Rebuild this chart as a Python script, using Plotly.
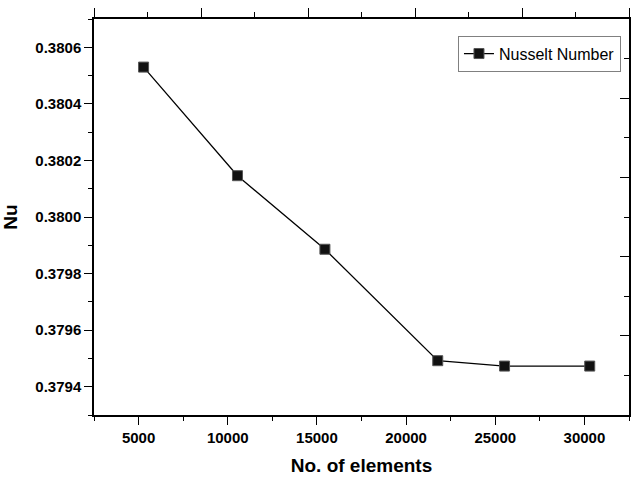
import plotly.graph_objects as go

# mesh independence data
n_elements = [5281, 10545, 15449, 21775, 25522, 30298]
nusselt = [0.38053, 0.380146, 0.379886, 0.379492, 0.379473, 0.379473]

font_family = "Liberation Sans, Arial, sans-serif"

fig = go.Figure()

# empty trace on the primary axes, which only carry the top/right frame ticks
fig.add_trace(go.Scatter(x=[None], y=[None], xaxis="x", yaxis="y",
                         mode="none", showlegend=False, hoverinfo="skip"))

fig.add_trace(go.Scatter(
    x=n_elements, y=nusselt,
    xaxis="x2", yaxis="y2",
    mode="lines+markers",
    name="Nusselt Number",
    line=dict(color="black", width=1.3),
    marker=dict(symbol="square", size=10, color="#111111",
                line=dict(color="#555555", width=1)),
))

frame_tick = dict(
    type="linear",
    showgrid=False, zeroline=False, showticklabels=False,
    showline=True, linecolor="black", linewidth=1.5, fixedrange=True,
    range=[0, 10], tickmode="linear", dtick=2, tick0=0, automargin=False,
    ticklen=9, tickwidth=1.3, tickcolor="black",
)

fig.update_layout(
    width=640, height=484,
    margin=dict(l=94, r=11, t=19, b=69),
    paper_bgcolor="white", plot_bgcolor="white",
    font=dict(family=font_family, color="black"),
    showlegend=True,
    legend=dict(
        x=0.985, y=0.958, xanchor="right", yanchor="top",
        bgcolor="white", bordercolor="#808080", borderwidth=1,
        font=dict(size=16, family=font_family),
    ),
    xaxis=dict(side="top", anchor="y", ticks="outside",
               minor=dict(dtick=1, tick0=0, ticks="outside", ticklen=5,
                          tickwidth=1.3, tickcolor="black", showgrid=False),
               **frame_tick),
    yaxis=dict(side="right", anchor="x", ticks="inside",
               minor=dict(dtick=1, tick0=0, ticks="inside", ticklen=5,
                          tickwidth=1.3, tickcolor="black", showgrid=False),
               **frame_tick),
    xaxis2=dict(
        overlaying="x", side="bottom", anchor="y",
        range=[2500, 32500], dtick=5000, tick0=0, tickformat="d",
        showgrid=False, zeroline=False, automargin=False,
        showline=True, linecolor="black", linewidth=1.5,
        ticks="outside", ticklen=8, tickwidth=1.3, tickcolor="black",
        minor=dict(dtick=2500, tick0=0, ticks="outside", ticklen=4,
                   tickwidth=1.3, tickcolor="black", showgrid=False),
        tickfont=dict(size=15, family=font_family, weight="bold"),
        title=dict(text="<b>No. of elements</b>",
                   font=dict(size=19, family=font_family), standoff=14),
    ),
    yaxis2=dict(
        overlaying="y", side="left", anchor="x",
        range=[0.3793, 0.3807], dtick=0.0002, tick0=0.3794,
        tickformat=".4f",
        showgrid=False, zeroline=False, automargin=False,
        showline=True, linecolor="black", linewidth=1.5,
        ticks="outside", ticklen=8, tickwidth=1.3, tickcolor="black",
        minor=dict(dtick=0.0001, tick0=0.3794, ticks="outside", ticklen=4,
                   tickwidth=1.3, tickcolor="black", showgrid=False),
        tickfont=dict(size=15, family=font_family, weight="bold"),
        title=dict(text="<b>Nu</b>",
                   font=dict(size=19, family=font_family), standoff=14),
    ),
)

fig.write_html("out.html", config={"displayModeBar": False},
               post_script="document.body.style.margin='0';")
